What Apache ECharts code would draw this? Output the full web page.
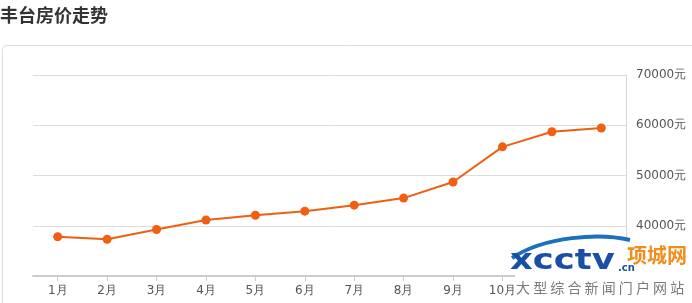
<!DOCTYPE html>
<html><head><meta charset="utf-8">
<script src="https://cdn.jsdelivr.net/npm/echarts@6/dist/echarts.min.js"></script>
<style>html,body{margin:0;padding:0;background:#fff}#c{width:692px;height:303px}</style>
</head><body><div id="c"></div>
<script>
const titleText = '丰台房价走势';
const months = ['1月','2月','3月','4月','5月','6月','7月','8月','9月','10月','11月','12月'];
const prices = [37800, 37300, 39250, 41150, 42100, 42900, 44100, 45500, 48700, 55700, 58700, 59450];
const yMin = 30000, yMax = 70000, yStep = 10000;
const unit = '元';

const chart = echarts.init(document.getElementById('c'));
chart.setOption({
  animation: false,
  grid: { left: 33, right: 66, top: 75, bottom: 27 },
  xAxis: {
    type: 'category', data: months, boundaryGap: true,
    axisLine: { lineStyle: { color: '#cccccc', width: 2 } },
    axisTick: { show: true, alignWithLabel: true, length: 5, lineStyle: { color: '#cccccc' } },
    axisLabel: { color: '#555', fontSize: 12, margin: 9, fontFamily: 'DejaVu Sans' }
  },
  yAxis: {
    type: 'value', position: 'right', min: yMin, max: yMax, interval: yStep,
    axisLine: { show: true, lineStyle: { color: '#d6d6d6', width: 1 } },
    axisTick: { show: false },
    splitLine: { lineStyle: { color: '#dddddd' } },
    axisLabel: { color: '#555', fontSize: 12, margin: 10, fontFamily: 'DejaVu Sans', formatter: v => v + unit }
  },
  series: [{
    type: 'line', data: prices, symbol: 'circle', symbolSize: 9,
    lineStyle: { color: '#ee5f10', width: 2 },
    itemStyle: { color: '#f06010' }
  }],
  graphic: [
    { type: 'text', left: 0, top: 6, style: { text: titleText, fontSize: 18, fontWeight: 'bold', fill: '#333', fontFamily: 'Noto Sans CJK SC' } },
    { type: 'rect', z: -10, shape: { x: 2.5, y: 45.5, width: 720, height: 300, r: 4 }, style: { fill: 'none', stroke: '#dddddd', lineWidth: 1 } },
    { type: 'rect', z: 100, shape: { x: 515, y: 238, width: 177, height: 65 }, style: { fill: '#ffffff' } },
    { type: 'bezierCurve', z: 101, shape: { x1: 512, y1: 258, x2: 630, y2: 240, cpx1: 545, cpy1: 236, cpx2: 600, cpy2: 233 }, style: { stroke: '#1d6fc0', lineWidth: 4, fill: 'none' } },
    { type: 'text', z: 102, x: 510, y: 247, scaleX: 1.22, style: { text: 'xcctv', fontSize: 29, fontWeight: 'bold', fill: '#1a4fa8', fontFamily: 'DejaVu Sans' } },
    { type: 'text', z: 102, x: 618, y: 263, style: { text: '.cn', fontSize: 10, fontWeight: 'bold', fill: '#1a4fa8', fontFamily: 'DejaVu Sans' } },
    { type: 'text', z: 102, x: 627, y: 245, style: { text: '项城网', fontSize: 20, fontWeight: 'bold', fill: '#f28c1a', fontFamily: 'Noto Sans CJK SC' } },
    { type: 'text', z: 102, x: 516, y: 281, style: { text: '大 型 综 合 新 闻 门 户 网 站', fontSize: 14, fill: '#7a7a7a', fontFamily: 'Noto Sans CJK SC' } }
  ]
});
</script></body></html>
